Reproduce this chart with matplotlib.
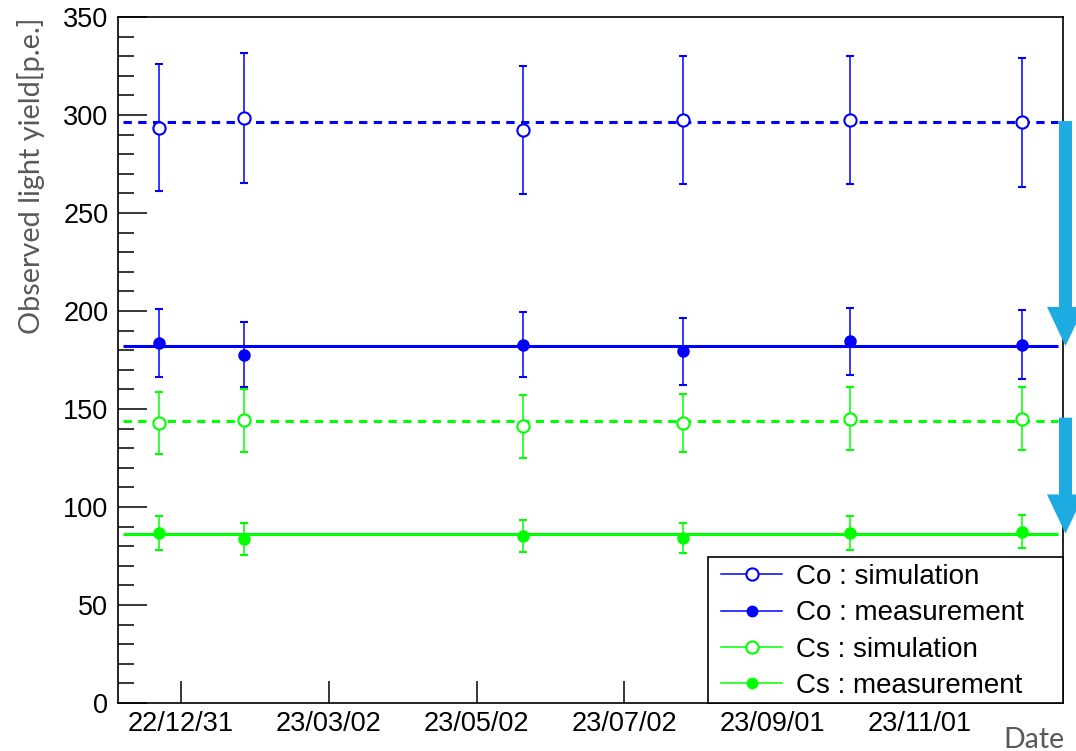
import datetime as dt
import matplotlib
matplotlib.use("Agg")
import matplotlib.pyplot as plt
import matplotlib.dates as mdates
from matplotlib.lines import Line2D
from matplotlib.patches import Rectangle, FancyArrow
from matplotlib.transforms import blended_transform_factory
from matplotlib.ticker import MultipleLocator

# ---------------- data ----------------
dates = ["2022-12-22", "2023-01-26", "2023-05-21", "2023-07-26", "2023-10-03", "2023-12-13"]
co_sim = [293.6, 298.4, 292.3, 297.5, 297.5, 296.2]
co_sim_err = [32.6, 33.2, 32.7, 32.8, 32.8, 32.9]
co_meas = [183.8, 177.8, 182.9, 179.5, 184.6, 182.9]
co_meas_err = [17.4, 16.5, 16.7, 17.1, 17.1, 17.6]
cs_sim = [142.9, 144.3, 141.2, 142.9, 145.1, 145.0]
cs_sim_err = [15.9, 16.0, 16.0, 15.0, 16.0, 16.1]
cs_meas = [86.7, 83.6, 85.3, 84.2, 86.7, 87.5]
cs_meas_err = [8.5, 8.2, 8.2, 7.6, 8.5, 8.2]

fit_co_sim = 296.5
fit_co_meas = 182.1
fit_cs_sim = 143.7
fit_cs_meas = 86.4
fit_range = ["2022-12-07", "2023-12-28"]
x_range = ["2022-12-05", "2023-12-30"]

tick_labels = ["22/12/31", "23/03/02", "23/05/02", "23/07/02", "23/09/01", "23/11/01"]
y_range = [0, 350]

labels = ["Co : simulation", "Co : measurement", "Cs : simulation", "Cs : measurement"]
BLUE = "#0000FF"
GREEN = "#00FF00"
ARROW = "#1DABE2"
GRAY = "#595959"

# ---------------- figure ----------------
plt.rcParams["lines.scale_dashes"] = False
fig = plt.figure(figsize=(10.76, 7.51), dpi=100)
ax = fig.add_axes([118 / 1076, 48 / 751, 945 / 1076, 686 / 751])

xd = [mdates.date2num(dt.datetime.strptime(d, "%Y-%m-%d")) for d in dates]
fx = [mdates.date2num(dt.datetime.strptime(d, "%Y-%m-%d")) for d in fit_range]
xr = [mdates.date2num(dt.datetime.strptime(d, "%Y-%m-%d")) for d in x_range]
tx = [mdates.date2num(dt.datetime.strptime(t, "%y/%m/%d")) for t in tick_labels]

# fit lines
ax.hlines(fit_co_sim, fx[0], fx[1], colors=BLUE, lw=2.2, linestyles=(0, (6.0, 4.6)), zorder=2)
ax.hlines(fit_co_meas, fx[0], fx[1], colors=BLUE, lw=2.2, zorder=2)
ax.hlines(fit_cs_sim, fx[0], fx[1], colors=GREEN, lw=2.2, linestyles=(0, (6.0, 4.6)), zorder=2)
ax.hlines(fit_cs_meas, fx[0], fx[1], colors=GREEN, lw=2.2, zorder=2)

series = [
    (co_sim, co_sim_err, BLUE, "white", 8.8),
    (co_meas, co_meas_err, BLUE, BLUE, 7.5),
    (cs_sim, cs_sim_err, GREEN, "white", 8.8),
    (cs_meas, cs_meas_err, GREEN, GREEN, 7.5),
]
for vals, errs, col, face, ms in series:
    ax.errorbar(xd, vals, yerr=errs, fmt="o", color=col, mfc=face, mec=col,
                ms=ms, mew=1.5, elinewidth=1.1, capsize=2.9, capthick=1.1, zorder=3)

ax.set_xlim(xr)
ax.set_ylim(y_range)
ax.set_xticks(tx)
ax.set_xticklabels(tick_labels)
ax.yaxis.set_major_locator(MultipleLocator(50))
ax.yaxis.set_minor_locator(MultipleLocator(10))

for s in ax.spines.values():
    s.set_linewidth(1.2)
ax.tick_params(axis="y", which="major", direction="in", length=21, width=1.1, pad=7,
               labelsize=19.5, left=True, right=False)
ax.tick_params(axis="y", which="minor", direction="in", length=11.5, width=1.1,
               left=True, right=False)
ax.tick_params(axis="x", which="major", direction="in", length=16, width=1.1, pad=6,
               labelsize=19.5, bottom=True, top=False)
ax.tick_params(axis="x", which="minor", bottom=False, top=False)
for lab in ax.get_xticklabels() + ax.get_yticklabels():
    lab.set_fontfamily("Liberation Sans")

# legend
frame = Rectangle((590 / 945, 0), 355 / 945, 146 / 686, transform=ax.transAxes,
                  fill=True, facecolor="white", edgecolor="black", lw=1.2, zorder=5,
                  clip_on=False)
ax.add_patch(frame)
handles = [
    Line2D([], [], color=BLUE, lw=1.1, marker="o", mfc="white", mec=BLUE, ms=8.8, mew=1.5),
    Line2D([], [], color=BLUE, lw=1.1, marker="o", mfc=BLUE, mec=BLUE, ms=7.5),
    Line2D([], [], color=GREEN, lw=1.1, marker="o", mfc="white", mec=GREEN, ms=8.8, mew=1.5),
    Line2D([], [], color=GREEN, lw=1.1, marker="o", mfc=GREEN, mec=GREEN, ms=7.5),
]
leg = ax.legend(handles, labels, loc="upper left", bbox_to_anchor=(603 / 945, 139 / 686),
                frameon=False, borderpad=0, borderaxespad=0, handlelength=2.2,
                handletextpad=0.5, labelspacing=0.37,
                prop={"family": "Liberation Sans", "size": 20})
leg.set_zorder(6)

# arrows
tr = blended_transform_factory(ax.transAxes, ax.transData)
xa = (1065.5 - 118) / 945
for y0, y1, top in [(fit_co_sim, fit_co_meas, fit_co_sim + 0.4), (fit_cs_sim, fit_cs_meas, fit_cs_sim + 1.9)]:
    arr = FancyArrow(xa, top, 0, y1 - top, width=13 / 945, head_width=37 / 945,
                     head_length=20, length_includes_head=True, transform=tr,
                     color=ARROW, lw=0, clip_on=False, zorder=7)
    ax.add_patch(arr)

# axis titles
fig.text(31 / 1076, 1 - 18 / 751, "Observed light yield[p.e.]", rotation=90,
         ha="center", va="top", fontsize=20.8, family="Lato", color=GRAY)
fig.text(1064 / 1076, 3 / 751, "Date", ha="right", va="baseline",
         fontsize=20.5, family="Lato", color=GRAY)

fig.savefig("out.png", dpi=100)
